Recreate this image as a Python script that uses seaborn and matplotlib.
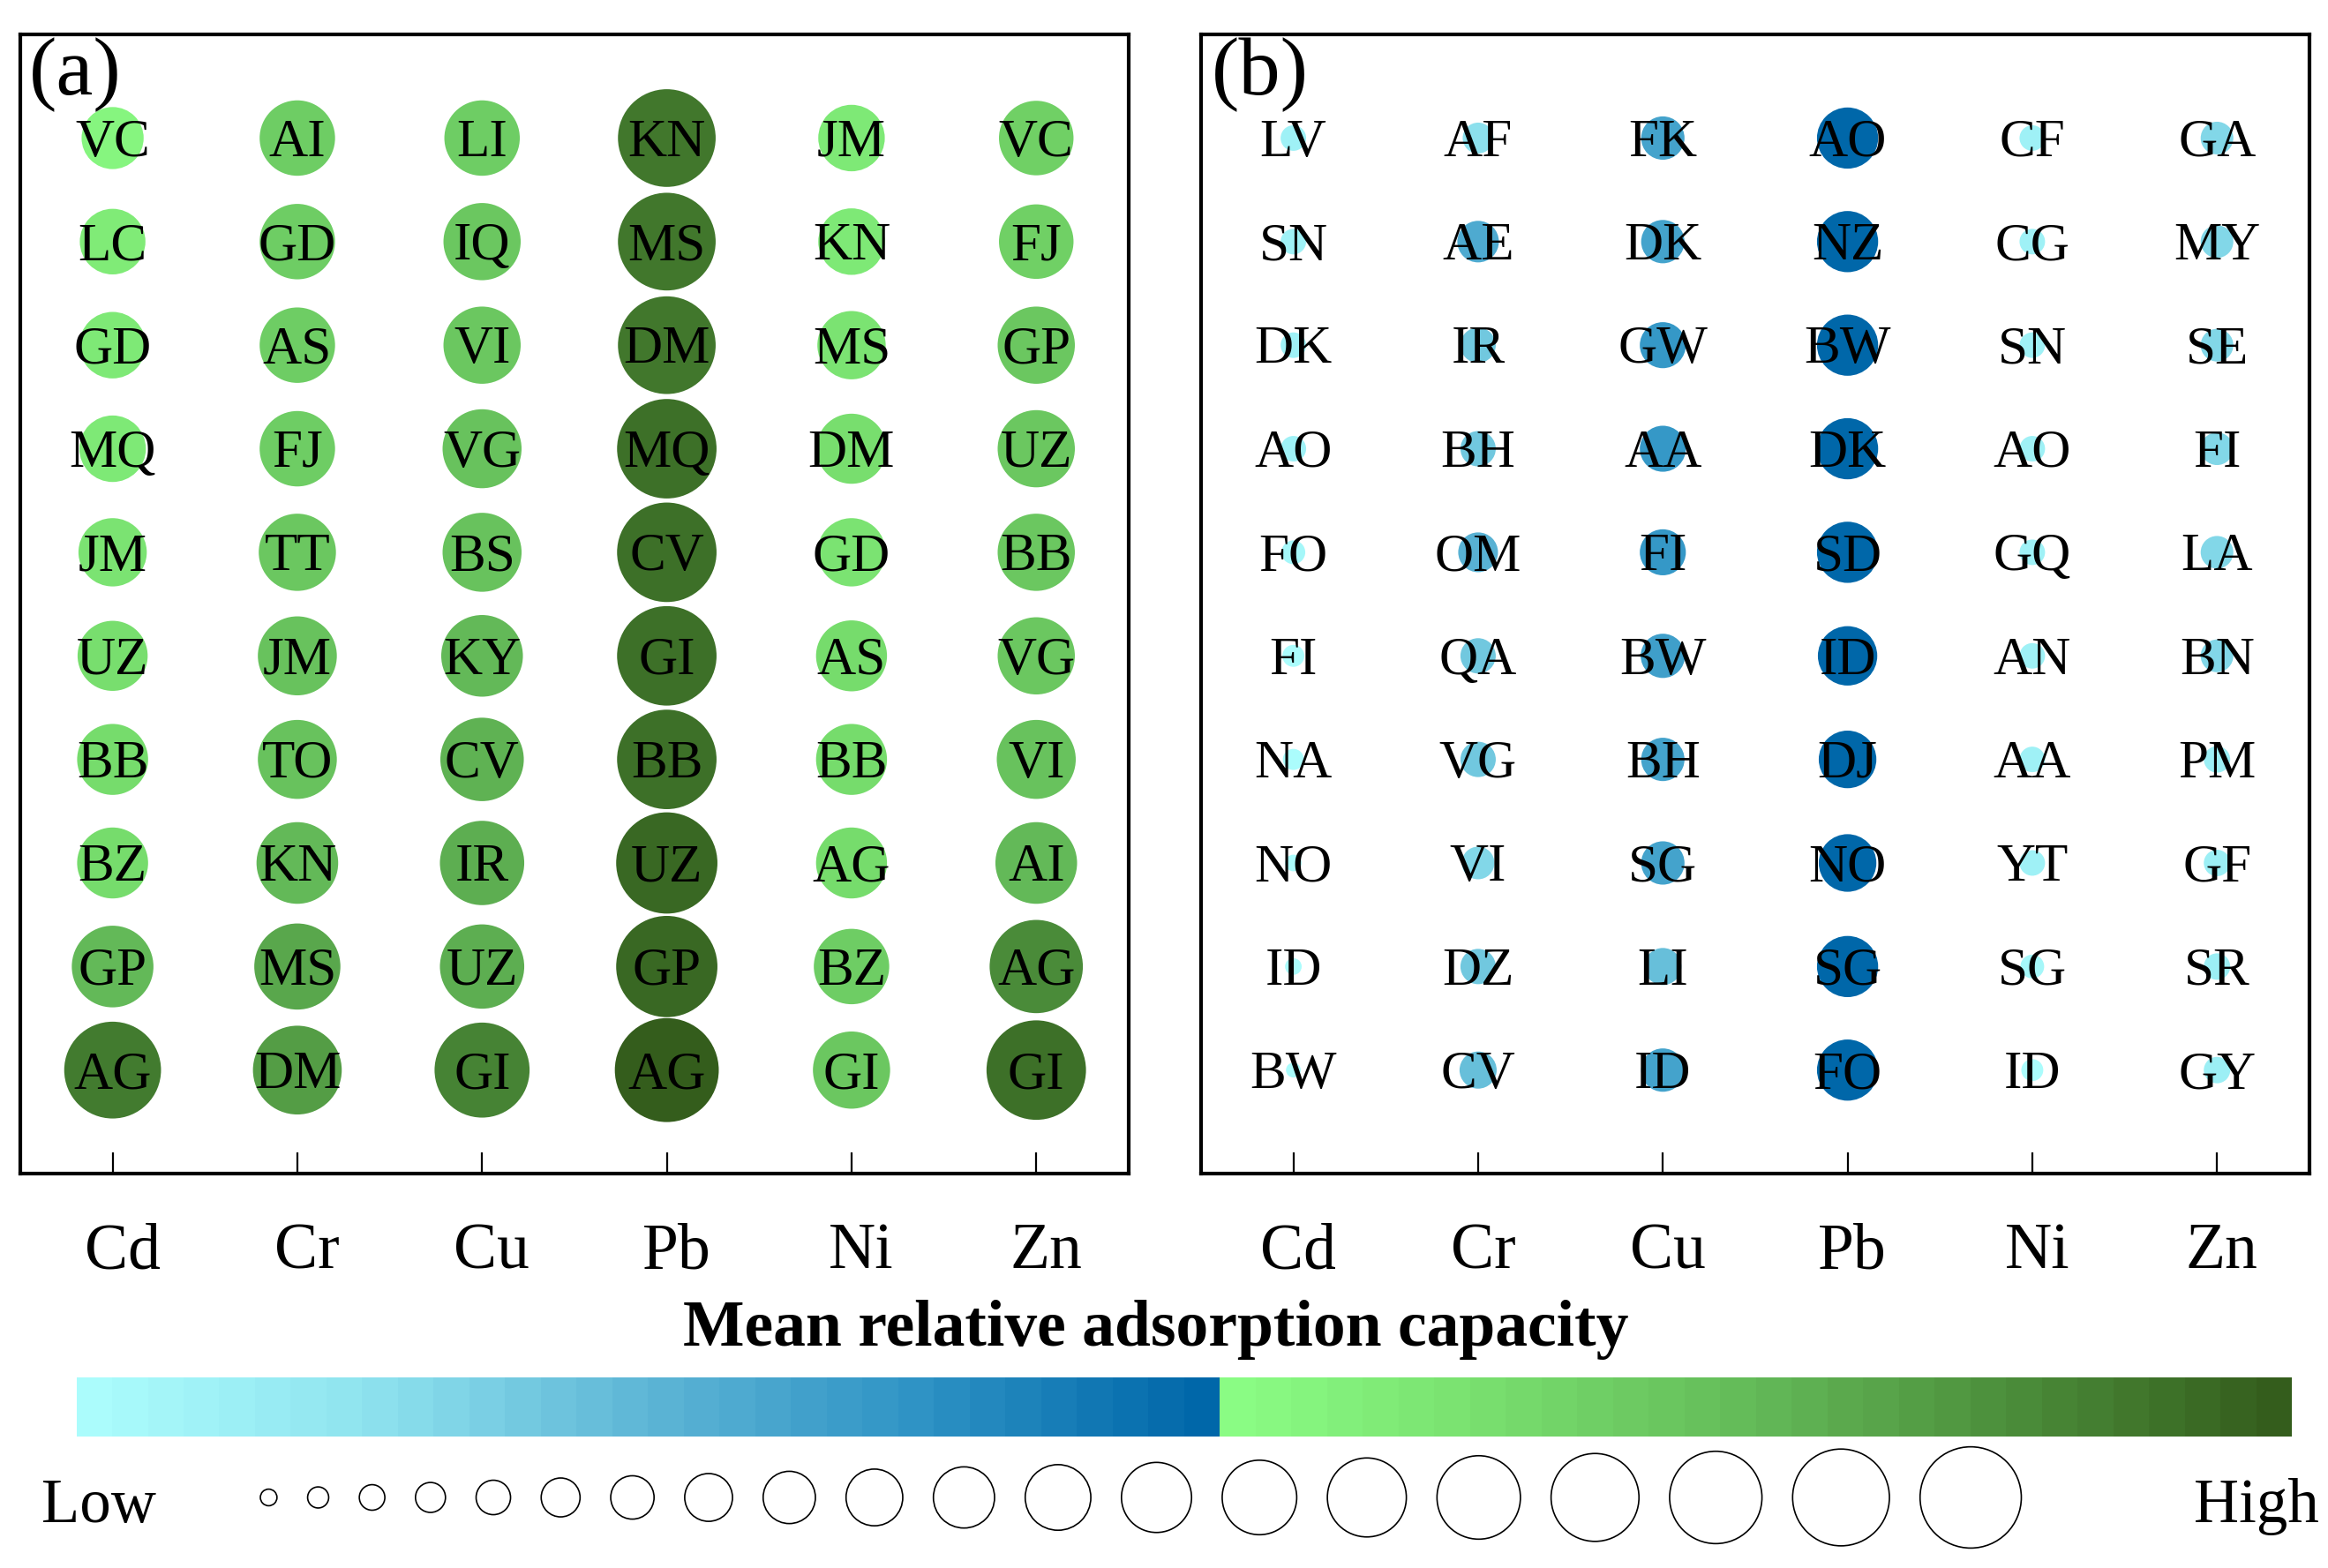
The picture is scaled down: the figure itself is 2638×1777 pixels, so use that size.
import numpy as np
import pandas as pd
import matplotlib
matplotlib.use('Agg')
import matplotlib.pyplot as plt
import matplotlib.transforms as mtransforms
from matplotlib.colors import LinearSegmentedColormap, ListedColormap
import seaborn as sns

metals = ['Cd', 'Cr', 'Cu', 'Pb', 'Ni', 'Zn']

# panel (a): country codes per metal, top row first
labels_a = [
    ['VC', 'LC', 'GD', 'MQ', 'JM', 'UZ', 'BB', 'BZ', 'GP', 'AG'],
    ['AI', 'GD', 'AS', 'FJ', 'TT', 'JM', 'TO', 'KN', 'MS', 'DM'],
    ['LI', 'IQ', 'VI', 'VG', 'BS', 'KY', 'CV', 'IR', 'UZ', 'GI'],
    ['KN', 'MS', 'DM', 'MQ', 'CV', 'GI', 'BB', 'UZ', 'GP', 'AG'],
    ['JM', 'KN', 'MS', 'DM', 'GD', 'AS', 'BB', 'AG', 'BZ', 'GI'],
    ['VC', 'FJ', 'GP', 'UZ', 'BB', 'VG', 'VI', 'AI', 'AG', 'GI'],
]
# mean relative adsorption capacity (0-1), same order
values_a = [
    [0.53, 0.57, 0.58, 0.58, 0.60, 0.62, 0.63, 0.63, 0.75, 0.92],
    [0.68, 0.68, 0.68, 0.68, 0.70, 0.72, 0.72, 0.75, 0.80, 0.83],
    [0.68, 0.70, 0.70, 0.72, 0.72, 0.75, 0.77, 0.78, 0.78, 0.90],
    [0.93, 0.93, 0.93, 0.95, 0.95, 0.95, 0.95, 0.97, 0.97, 1.00],
    [0.58, 0.58, 0.60, 0.62, 0.60, 0.63, 0.63, 0.63, 0.68, 0.70],
    [0.67, 0.67, 0.70, 0.70, 0.70, 0.70, 0.72, 0.75, 0.88, 0.95],
]

# panel (b)
labels_b = [
    ['LV', 'SN', 'DK', 'AO', 'FO', 'FI', 'NA', 'NO', 'ID', 'BW'],
    ['AF', 'AE', 'IR', 'BH', 'OM', 'QA', 'VG', 'VI', 'DZ', 'CV'],
    ['FK', 'DK', 'GW', 'AA', 'FI', 'BW', 'BH', 'SG', 'LI', 'ID'],
    ['AO', 'NZ', 'BW', 'DK', 'SD', 'ID', 'DJ', 'NO', 'SG', 'FO'],
    ['CF', 'CG', 'SN', 'AO', 'GQ', 'AN', 'AA', 'YT', 'SG', 'ID'],
    ['GA', 'MY', 'SE', 'FI', 'LA', 'BN', 'PM', 'GF', 'SR', 'GY'],
]
values_b = [
    [0.12, 0.12, 0.12, 0.12, 0.10, 0.08, 0.07, 0.02, 0.02, 0.00],
    [0.18, 0.30, 0.23, 0.23, 0.28, 0.23, 0.23, 0.20, 0.23, 0.25],
    [0.32, 0.32, 0.35, 0.35, 0.35, 0.33, 0.32, 0.32, 0.25, 0.32],
    [0.52, 0.52, 0.52, 0.52, 0.52, 0.50, 0.48, 0.48, 0.52, 0.52],
    [0.12, 0.12, 0.12, 0.12, 0.12, 0.12, 0.12, 0.12, 0.10, 0.08],
    [0.20, 0.20, 0.20, 0.20, 0.20, 0.20, 0.13, 0.13, 0.13, 0.13],
]

# size key levels (Low -> High)
key_levels = [0.02, 0.07, 0.12, 0.17, 0.22, 0.27, 0.32, 0.37, 0.42, 0.47,
              0.52, 0.57, 0.62, 0.67, 0.72, 0.77, 0.82, 0.87, 0.92, 0.97]

blue_stops = ['#abfcfc', '#8ee2ee', '#5db5d5', '#2d92c4', '#0067a9']
green_stops = ['#8afc84', '#77dd6d', '#63b958', '#4b8d3a', '#345d1c']

sns.set_style('ticks')
plt.rcParams['font.family'] = ['Liberation Serif', 'DejaVu Serif']
plt.rcParams['text.color'] = 'black'
plt.rcParams['xtick.color'] = 'black'

blue_cmap = LinearSegmentedColormap.from_list('blue_cap', blue_stops)
green_cmap = LinearSegmentedColormap.from_list('green_cap', green_stops)

# marker diameter (pt) for value 0 and 1
D_LO, D_HI = 12.1, 84.8


def diam_pt(v):
    return D_LO + (D_HI - D_LO) * np.asarray(v, dtype=float)


def panel_frame(labels, values):
    rows = []
    for i, metal in enumerate(metals):
        for j, (code, val) in enumerate(zip(labels[i], values[i])):
            rows.append({'metal': metal, 'xi': i, 'row': j, 'code': code, 'value': val})
    return pd.DataFrame(rows)


def draw_panel(ax, df, cmap, hue_norm, label_shift):
    sns.scatterplot(data=df, x='xi', y='row', hue='value', palette=cmap,
                    hue_norm=hue_norm, s=diam_pt(df['value']) ** 2,
                    linewidth=0, legend=False, ax=ax, zorder=2)
    # codes sit a touch below the bubble centre
    txt_tr = ax.transData + mtransforms.ScaledTranslation(0, -4 / 72, ax.figure.dpi_scale_trans)
    for _, r in df.iterrows():
        ax.text(r['xi'], r['row'], r['code'], ha='center', va='center',
                fontsize=44, zorder=3, transform=txt_tr)
    ax.set_xlim(-0.5, 5.5)
    ax.set_ylim(10.0, -1.0)
    ax.set_xticks(range(len(metals)))
    ax.set_xticklabels(metals)
    ax.set_yticks([])
    ax.set_xlabel('')
    ax.set_ylabel('')
    ax.tick_params(axis='x', direction='in', length=17, width=1.6, pad=40,
                   labelsize=53, bottom=True, top=False, color='black')
    shift = mtransforms.ScaledTranslation(label_shift / 72, 0, ax.figure.dpi_scale_trans)
    for lab in ax.get_xticklabels():
        lab.set_transform(lab.get_transform() + shift)
    for sp in ax.spines.values():
        sp.set_visible(True)
        sp.set_linewidth(3)
        sp.set_color('black')


fig = plt.figure(figsize=(26.38, 17.77), dpi=100)

ax_a = fig.add_axes([0.0087, 0.2515, 0.4761, 0.7265])
ax_b = fig.add_axes([0.5159, 0.2515, 0.4761, 0.7265])

draw_panel(ax_a, panel_frame(labels_a, values_a), green_cmap, (0.5, 1.0), 8)
draw_panel(ax_b, panel_frame(labels_b, values_b), blue_cmap, (0.08, 0.46), 4)

fig.text(0.0125, 0.9764, '(a)', ha='left', va='top', fontsize=68)
fig.text(0.5205, 0.9764, '(b)', ha='left', va='top', fontsize=68)

fig.text(0.4966, 0.1418, 'Mean relative adsorption capacity', ha='center',
         va='baseline', fontsize=53, fontweight='bold')

# colour strip: blue half then green half
n_blue, n_green = 32, 30
steps = [blue_cmap(t) for t in np.linspace(0, 1, n_blue)] + \
        [green_cmap(t) for t in np.linspace(0, 1, n_green)]
cax = fig.add_axes([0.0328, 0.0838, 0.9517, 0.0378])
sns.heatmap(np.arange(n_blue + n_green)[None, :], cmap=ListedColormap(steps),
            cbar=False, xticklabels=False, yticklabels=False, ax=cax)

# size key
lax = fig.add_axes([0, 0.005, 1, 0.08])
fig_w_pt = fig.get_figwidth() * 72
kd = diam_pt(key_levels)
gap = 25.0
centres = 219.2 + np.concatenate([[0], np.cumsum((kd[:-1] + kd[1:]) / 2 + gap)])
key_df = pd.DataFrame({'x': centres, 'y': 0.0, 'level': key_levels})
sns.scatterplot(data=key_df, x='x', y='y', s=kd ** 2, facecolor='none',
                edgecolor='black', linewidth=1.2, legend=False, ax=lax)
lax.set_xlim(0, fig_w_pt)
lax.set_ylim(-1, 1)
lax.axis('off')

fig.text(0.018, 0.0293, 'Low', ha='left', va='baseline', fontsize=51)
fig.text(0.996, 0.0293, 'High', ha='right', va='baseline', fontsize=51)

fig.savefig('out.png', dpi=100, facecolor='white')
